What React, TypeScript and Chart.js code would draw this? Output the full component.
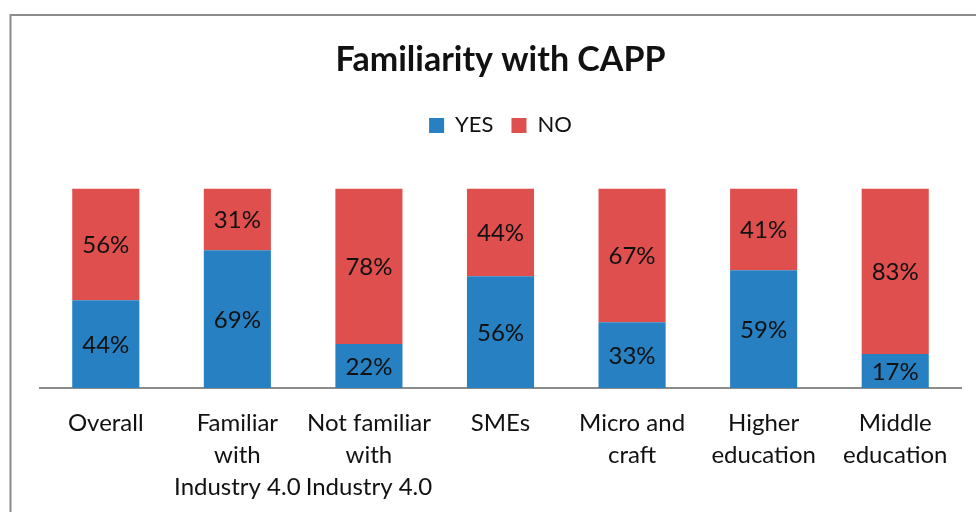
import React, { useEffect, useRef } from 'react';
import { Chart, registerables } from 'chart.js';

Chart.register(...registerables);

const categories: (string | string[])[] = [
  'Overall',
  ['Familiar', 'with', 'Industry 4.0'],
  ['Not familiar', 'with', 'Industry 4.0'],
  'SMEs',
  ['Micro and', 'craft'],
  ['Higher', 'education'],
  ['Middle', 'education'],
];
const yesValues = [44, 69, 22, 56, 33, 59, 17];
const noValues = [56, 31, 78, 44, 67, 41, 83];
const seriesNames = ['YES', 'NO'];
const titleText = 'Familiarity with CAPP';

const BLUE = '#2680C2';
const RED = '#DF4F4E';
const FONT = 'Lato, "Noto Sans", sans-serif';

const framePlugin = {
  id: 'frame',
  beforeDraw(chart: any) {
    const { ctx, width, height } = chart;
    ctx.save();
    ctx.fillStyle = '#ffffff';
    ctx.fillRect(0, 0, width, height);
    ctx.strokeStyle = '#8c8c8c';
    ctx.lineWidth = 2;
    ctx.strokeRect(10.5, 15, width + 50, height + 50);
    ctx.restore();
  },
};

const valueLabelPlugin = {
  id: 'valueLabels',
  afterDatasetsDraw(chart: any) {
    const ctx = chart.ctx;
    ctx.save();
    ctx.font = `24px ${FONT}`;
    ctx.fillStyle = '#111111';
    ctx.textAlign = 'center';
    ctx.textBaseline = 'middle';
    chart.data.datasets.forEach((ds: any, di: number) => {
      const meta = chart.getDatasetMeta(di);
      meta.data.forEach((el: any, i: number) => {
        const v = ds.data[i];
        const y = (el.y + el.base) / 2;
        ctx.fillText(`${v}%`, el.x, y + 1);
      });
    });
    ctx.restore();
  },
};

export default function App() {
  const canvasRef = useRef<HTMLCanvasElement | null>(null);

  useEffect(() => {
    if (!canvasRef.current) return;
    const chart = new Chart(canvasRef.current, {
      type: 'bar',
      data: {
        labels: categories,
        datasets: [
          { label: seriesNames[0], data: yesValues, backgroundColor: BLUE, borderWidth: 0 },
          { label: seriesNames[1], data: noValues, backgroundColor: RED, borderWidth: 0 },
        ],
      },
      options: {
        responsive: false,
        animation: false,
        layout: { padding: { left: 40, right: 15, top: 0, bottom: 0 } },
        datasets: {
          bar: { barPercentage: 0.51, categoryPercentage: 1 },
        },
        scales: {
          x: {
            stacked: true,
            grid: { display: false, drawTicks: false },
            border: { display: true, color: '#8c8c8c', width: 2 },
            ticks: {
              color: '#111111',
              padding: 19,
              maxRotation: 0,
              autoSkip: false,
              font: { family: FONT, size: 24, lineHeight: '32px' },
            },
            afterFit: (scale: any) => {
              scale.height = 124;
            },
          },
          x2: {
            axis: 'x',
            type: 'category',
            position: 'top',
            grid: { display: false, drawTicks: false },
            border: { display: false },
            ticks: { display: false },
            afterFit: (scale: any) => {
              scale.height = 42;
            },
          },
          y: {
            stacked: true,
            display: false,
            min: 0,
            max: 100,
          },
        },
        plugins: {
          title: {
            display: true,
            text: titleText,
            color: '#111111',
            font: { family: FONT, size: 34, weight: 'bold', lineHeight: 1.2 },
            padding: { top: 39.6, bottom: 16 },
          },
          legend: {
            display: true,
            position: 'top',
            labels: {
              color: '#111111',
              boxWidth: 15,
              boxHeight: 15,
              padding: 18,
              font: { family: FONT, size: 22 },
            },
          },
          tooltip: { enabled: false },
        },
      },
      plugins: [framePlugin, valueLabelPlugin],
    } as any);
    return () => chart.destroy();
  }, []);

  return (
    <div style={{ position: 'absolute', left: 0, top: 0, width: 976, height: 512 }}>
      <canvas ref={canvasRef} width={976} height={512} />
    </div>
  );
}
